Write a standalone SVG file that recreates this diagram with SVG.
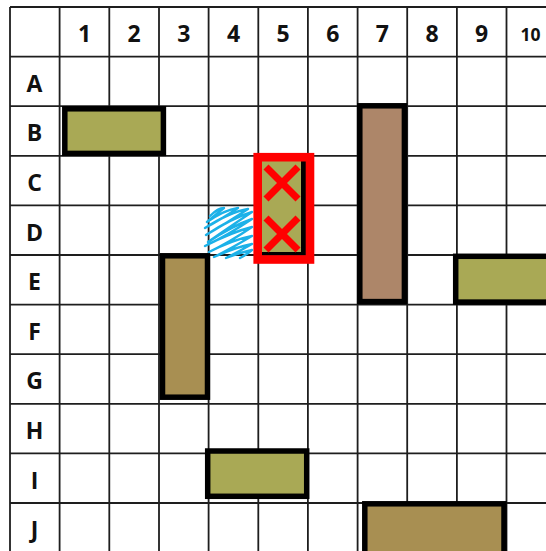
<svg xmlns="http://www.w3.org/2000/svg" width="546" height="551" viewBox="0 0 546 551">
<style>
.grid line{stroke:#1e1e1e;stroke-width:1.8}
.hd{font-family:"Open Sans","Liberation Sans",sans-serif;font-weight:700;font-size:23px;fill:#111;text-anchor:middle}
.blk{stroke:#000;stroke-width:5.5}
.olive{fill:#a9a955}
.tan{fill:#a88f52}
.brown{fill:#ad8669}
.x{stroke:#ff0000;stroke-width:7;stroke-linecap:butt}
</style>
<rect width="546" height="551" fill="#fff"/>
<g id="grid" class="grid">
<line x1="10" y1="7" x2="10" y2="551"/>
<line x1="59.6" y1="7" x2="59.6" y2="551"/>
<line x1="109.3" y1="7" x2="109.3" y2="551"/>
<line x1="159" y1="7" x2="159" y2="551"/>
<line x1="208.6" y1="7" x2="208.6" y2="551"/>
<line x1="258.3" y1="7" x2="258.3" y2="551"/>
<line x1="307.9" y1="7" x2="307.9" y2="551"/>
<line x1="357.6" y1="7" x2="357.6" y2="551"/>
<line x1="407.2" y1="7" x2="407.2" y2="551"/>
<line x1="456.9" y1="7" x2="456.9" y2="551"/>
<line x1="506.5" y1="7" x2="506.5" y2="551"/>
<line x1="10" y1="7" x2="546" y2="7"/>
<line x1="10" y1="56.6" x2="546" y2="56.6"/>
<line x1="10" y1="106.2" x2="546" y2="106.2"/>
<line x1="10" y1="155.8" x2="546" y2="155.8"/>
<line x1="10" y1="205.4" x2="546" y2="205.4"/>
<line x1="10" y1="255" x2="546" y2="255"/>
<line x1="10" y1="304.6" x2="546" y2="304.6"/>
<line x1="10" y1="354.2" x2="546" y2="354.2"/>
<line x1="10" y1="403.8" x2="546" y2="403.8"/>
<line x1="10" y1="453.4" x2="546" y2="453.4"/>
<line x1="10" y1="503" x2="546" y2="503"/>
</g>
<g id="headers" class="hd">
<text x="84.5" y="42">1</text>
<text x="134.2" y="42">2</text>
<text x="183.8" y="42">3</text>
<text x="233.5" y="42">4</text>
<text x="283.1" y="42">5</text>
<text x="332.8" y="42">6</text>
<text x="382.4" y="42">7</text>
<text x="432" y="42">8</text>
<text x="481.7" y="42">9</text>
<text x="530.5" y="40.5" style="font-size:17.5px">10</text>
<text x="34.5" y="91.8">A</text>
<text x="34.5" y="141.4">B</text>
<text x="34.5" y="191">C</text>
<text x="34.5" y="240.6">D</text>
<text x="34.5" y="290.2">E</text>
<text x="34.5" y="339.8">F</text>
<text x="34.5" y="389.4">G</text>
<text x="34.5" y="439">H</text>
<text x="34.5" y="488.6">I</text>
<text x="34.5" y="538.2">J</text>
</g>
<g id="shipB12"><rect class="blk olive" x="64.8" y="108.8" width="98.6" height="44.6"/></g>
<g id="ship7"><rect class="blk brown" x="359.8" y="105.8" width="44.6" height="195.8"/></g>
<g id="shipE910"><rect class="blk olive" x="455.7" y="256.3" width="100" height="45.8"/></g>
<g id="shipEG3"><rect class="blk tan" x="162.5" y="255.8" width="45" height="141.4"/></g>
<g id="shipI45"><rect class="blk olive" x="207.7" y="451" width="99" height="45.3"/></g>
<g id="shipJ79"><rect class="blk tan" x="364.8" y="503.8" width="139.2" height="52"/></g>
<g id="scribble">
<path d="M210,216 Q218,208 224,208 Q214,216 207,222 Q224,210 238,208 Q220,220 205,228 Q230,212 248,209 Q225,224 206,235 Q232,218 252,212 Q228,228 208,242 Q232,226 252,219 Q228,235 205,246 Q232,232 252,227 Q230,242 209,252 Q232,240 252,236 Q232,248 214,257 Q236,247 252,244 Q238,252 226,258 Q242,252 252,250 Q246,255 240,258" fill="none" stroke="#1cb1e8" stroke-width="2.4" stroke-linejoin="round" stroke-linecap="round"/>
</g>
<g id="hitC5D5">
<rect x="262" y="161" width="44" height="94" fill="#a9a955"/>
<rect x="301" y="161" width="5" height="94" fill="#000"/>
<rect x="262" y="252" width="44" height="3" fill="#000"/>
<rect x="257.7" y="157.2" width="52.3" height="102.3" fill="none" stroke="#ff0000" stroke-width="8.6"/>
<line class="x" x1="266" y1="167" x2="298" y2="199"/>
<line class="x" x1="298" y1="167" x2="266" y2="199"/>
<line class="x" x1="266" y1="218" x2="298" y2="250"/>
<line class="x" x1="298" y1="218" x2="266" y2="250"/>
</g>
</svg>
